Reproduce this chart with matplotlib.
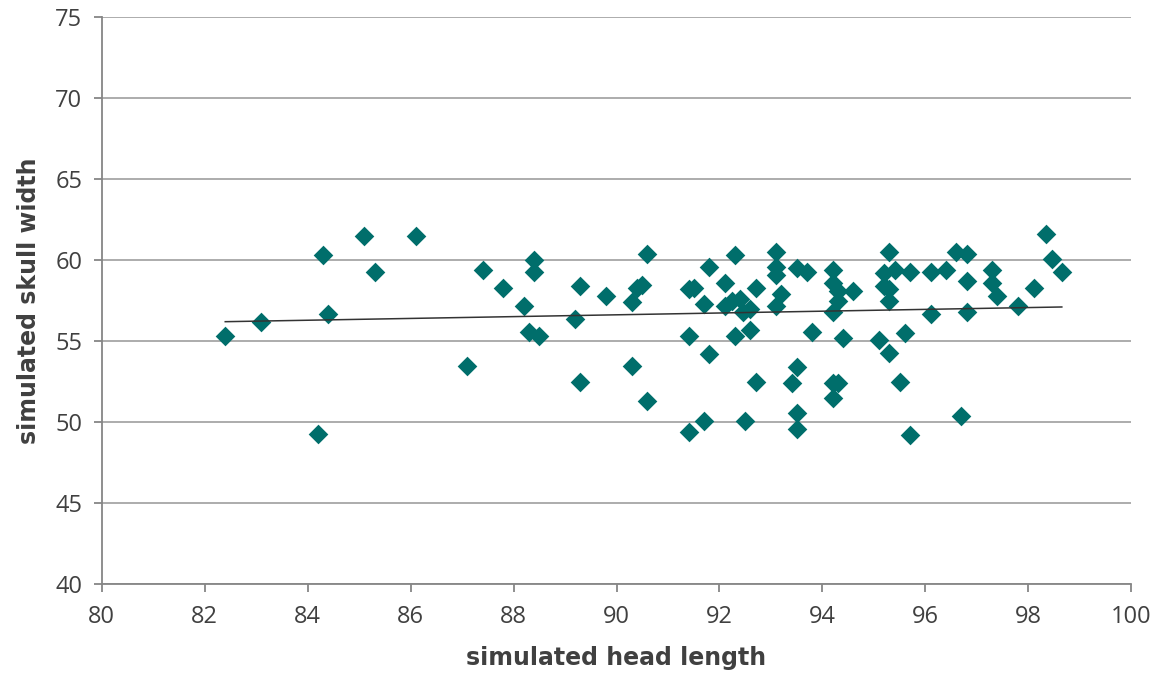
import numpy as np
import matplotlib
matplotlib.use("Agg")
import matplotlib.pyplot as plt

plt.rcParams['font.family'] = ['Open Sans', 'DejaVu Sans']

# simulated head length (x) and skull width (y)
head_length = [
    82.4, 83.1, 84.2, 84.3, 84.4, 85.1, 85.3, 86.1, 87.1, 87.4,
    87.8, 88.2, 88.3, 88.4, 88.4, 88.5, 89.2, 89.3, 89.3, 89.8,
    90.3, 90.3, 90.4, 90.5, 90.6, 90.6, 91.4, 91.5, 91.4, 91.4,
    91.7, 91.7, 91.8, 91.8, 92.1, 92.1, 92.25, 92.4, 92.6, 92.45,
    92.3, 92.3, 92.6, 92.5, 92.7, 92.7, 93.1, 93.1, 93.1, 93.2,
    93.1, 93.5, 93.7, 93.5, 93.4, 93.5, 93.5, 93.8, 94.2, 94.2,
    94.3, 94.3, 94.2, 94.6, 94.4, 94.2, 94.3, 94.2, 95.3, 95.2,
    95.4, 95.7, 95.2, 95.3, 95.3, 95.1, 95.3, 95.6, 95.5, 95.7,
    96.1, 96.1, 96.4, 96.6, 96.8, 96.8, 96.8, 96.7, 97.3, 97.3,
    97.4, 97.8, 98.1, 98.35, 98.45, 98.65,
]
skull_width = [
    55.3, 56.2, 49.3, 60.3, 56.7, 61.5, 59.3, 61.5, 53.5, 59.4,
    58.3, 57.2, 55.6, 60.0, 59.3, 55.3, 56.4, 52.5, 58.4, 57.8,
    57.4, 53.5, 58.3, 58.5, 60.4, 51.3, 58.2, 58.3, 55.3, 49.4,
    50.1, 57.3, 59.6, 54.2, 58.6, 57.2, 57.5, 57.6, 57.0, 56.8,
    60.3, 55.3, 55.7, 50.1, 58.3, 52.5, 60.5, 59.6, 59.1, 57.9,
    57.2, 59.5, 59.3, 53.4, 52.4, 50.6, 49.6, 55.6, 59.4, 58.6,
    58.1, 57.5, 56.8, 58.1, 55.2, 52.4, 52.4, 51.5, 60.5, 59.2,
    59.4, 59.3, 58.4, 58.2, 57.5, 55.1, 54.3, 55.5, 52.5, 49.2,
    59.3, 56.7, 59.4, 60.5, 60.4, 58.7, 56.8, 50.4, 59.4, 58.6,
    57.8, 57.2, 58.3, 61.6, 60.1, 59.3,
]

x_ticks = [80, 82, 84, 86, 88, 90, 92, 94, 96, 98, 100]
y_ticks = [40, 45, 50, 55, 60, 65, 70, 75]

text_col = '#404040'
axis_col = '#868686'

fig = plt.figure(figsize=(11.57, 6.73), dpi=100)
ax = fig.add_axes([0.0879, 0.132, 0.8899, 0.842])

ax.grid(axis='y', color='#a6a6a6', linewidth=1.3, zorder=0)
ax.set_axisbelow(True)

ax.scatter(head_length, skull_width, marker='D', s=100, color='#006e6b',
           linewidths=0, zorder=3)

# linear trendline
x = np.array(head_length)
coef = np.polyfit(x, np.array(skull_width), 1)
xs = np.array([x.min(), x.max()])
ax.plot(xs, np.polyval(coef, xs), color='#333333', linewidth=1.1, zorder=4)

ax.set_xlim(80, 100)
ax.set_ylim(40, 75)
ax.set_xticks(x_ticks)
ax.set_yticks(y_ticks)

for side in ['top', 'right']:
    ax.spines[side].set_visible(False)
for side in ['left', 'bottom']:
    ax.spines[side].set_color(axis_col)
    ax.spines[side].set_linewidth(1.3)

ax.tick_params(axis='both', direction='out', length=6, width=1.3,
               color=axis_col, labelcolor=text_col, labelsize=17)
ax.tick_params(axis='x', pad=9)
ax.tick_params(axis='y', pad=8)

ax.set_xlabel('simulated head length', fontsize=17, fontweight='bold',
              family='DejaVu Sans', color=text_col, labelpad=12)
ax.set_ylabel('simulated skull width', fontsize=17, fontweight='bold',
              family='DejaVu Sans', color=text_col, labelpad=10)

fig.savefig('out.png', dpi=100)
